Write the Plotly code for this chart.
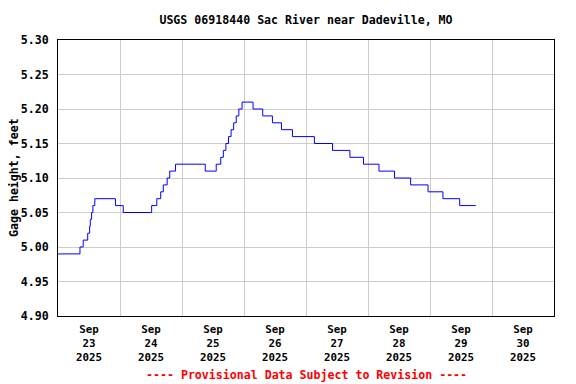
import plotly.graph_objects as go

# Step-change points of the gage height record (time, value in feet)
change_times = [
    "2025-09-23 00:00", "2025-09-23 08:30", "2025-09-23 09:45", "2025-09-23 11:30",
    "2025-09-23 12:15", "2025-09-23 12:30", "2025-09-23 13:00", "2025-09-23 13:30",
    "2025-09-23 14:15", "2025-09-23 22:15", "2025-09-24 01:15", "2025-09-24 12:15",
    "2025-09-24 14:15", "2025-09-24 15:45", "2025-09-24 16:45", "2025-09-24 18:15",
    "2025-09-24 19:15", "2025-09-24 21:30", "2025-09-25 09:00", "2025-09-25 13:15",
    "2025-09-25 15:00", "2025-09-25 16:00", "2025-09-25 17:00", "2025-09-25 18:00",
    "2025-09-25 19:00", "2025-09-25 20:00", "2025-09-25 21:00", "2025-09-25 22:00",
    "2025-09-25 23:15", "2025-09-26 03:30", "2025-09-26 07:15", "2025-09-26 11:00",
    "2025-09-26 14:30", "2025-09-26 18:45", "2025-09-27 03:15", "2025-09-27 10:15",
    "2025-09-27 17:00", "2025-09-27 22:15", "2025-09-28 04:15", "2025-09-28 10:15",
    "2025-09-28 16:30", "2025-09-28 23:15", "2025-09-29 05:00", "2025-09-29 11:30",
    "2025-09-29 17:45",
]
gage_height = [
    4.99, 5.00, 5.01, 5.02,
    5.03, 5.04, 5.05, 5.06,
    5.07, 5.06, 5.05, 5.06,
    5.07, 5.08, 5.09, 5.10,
    5.11, 5.12, 5.11, 5.12,
    5.13, 5.14, 5.15, 5.16,
    5.17, 5.18, 5.19, 5.20,
    5.21, 5.20, 5.19, 5.18,
    5.17, 5.16, 5.15, 5.14,
    5.13, 5.12, 5.11, 5.10,
    5.09, 5.08, 5.07, 5.06,
    5.06,
]

tick_dates = ["2025-09-23 12:00", "2025-09-24 12:00", "2025-09-25 12:00", "2025-09-26 12:00",
              "2025-09-27 12:00", "2025-09-28 12:00", "2025-09-29 12:00", "2025-09-30 12:00"]
tick_labels = ["Sep<br>23<br>2025", "Sep<br>24<br>2025", "Sep<br>25<br>2025", "Sep<br>26<br>2025",
               "Sep<br>27<br>2025", "Sep<br>28<br>2025", "Sep<br>29<br>2025", "Sep<br>30<br>2025"]
y_ticks = [4.90, 4.95, 5.00, 5.05, 5.10, 5.15, 5.20, 5.25, 5.30]

FONT = "DejaVu Sans Mono"
fsize = 11.6

# page body has an 8px margin, so the figure is sized/offset to fit the 576x384 window
W, H = 568, 376
L, R, T, B = 50, 22, 32, 68
PW = W - L - R

fig = go.Figure()
fig.add_trace(go.Scatter(
    x=change_times, y=gage_height, mode="lines",
    line=dict(color="#0000ff", width=1, shape="hv"),
    showlegend=False, hoverinfo="skip",
))

fig.update_layout(
    width=W, height=H,
    margin=dict(l=L, r=R, t=T, b=B, autoexpand=False),
    paper_bgcolor="white", plot_bgcolor="white",
    font=dict(family=FONT, size=fsize, color="black", weight="bold"),
    title=dict(text="USGS 06918440 Sac River near Dadeville, MO",
               x=(L + W - R) / 2 / W, xanchor="center", y=1 - 12 / H, yanchor="middle",
               font=dict(family=FONT, size=fsize, color="black", weight="bold")),
    xaxis=dict(
        range=["2025-09-23 00:00", "2025-10-01 00:00"],
        tickmode="array", tickvals=tick_dates, ticktext=tick_labels,
        showgrid=False, ticks="", ticklabelstandoff=3, automargin=False,
        showline=True, linecolor="black", linewidth=1, mirror=True,
        zeroline=False,
        minor=dict(tickmode="linear", tick0="2025-09-23", dtick=86400000,
                   showgrid=True, gridcolor="#cccccc", gridwidth=1, ticks=""),
        tickfont=dict(family=FONT, size=10.8, color="black", weight="bold"),
    ),
    yaxis=dict(
        range=[4.90, 5.30], tickmode="array", tickvals=y_ticks,
        tickformat=".2f", showgrid=True, gridcolor="#cccccc", gridwidth=1,
        ticks="", ticklabelstandoff=6, automargin=False,
        showline=True, linecolor="black", linewidth=1, mirror=True,
        zeroline=False,
        tickfont=dict(family=FONT, size=fsize, color="black", weight="bold"),
    ),
    annotations=[
        dict(
            text="---- Provisional Data Subject to Revision ----",
            xref="paper", yref="paper", x=0.5, y=-(375 - 316) / (316 - 40),
            xanchor="center", yanchor="middle", showarrow=False,
            font=dict(family=FONT, size=fsize, color="#ff0000", weight="bold"),
        ),
        dict(
            text="Gage height, feet", textangle=-90,
            xref="paper", yref="paper", x=(6 - L) / PW, y=0.5,
            xanchor="center", yanchor="middle", showarrow=False,
            font=dict(family=FONT, size=fsize, color="black", weight="bold"),
        ),
    ],
)

fig.write_html("out.html")
